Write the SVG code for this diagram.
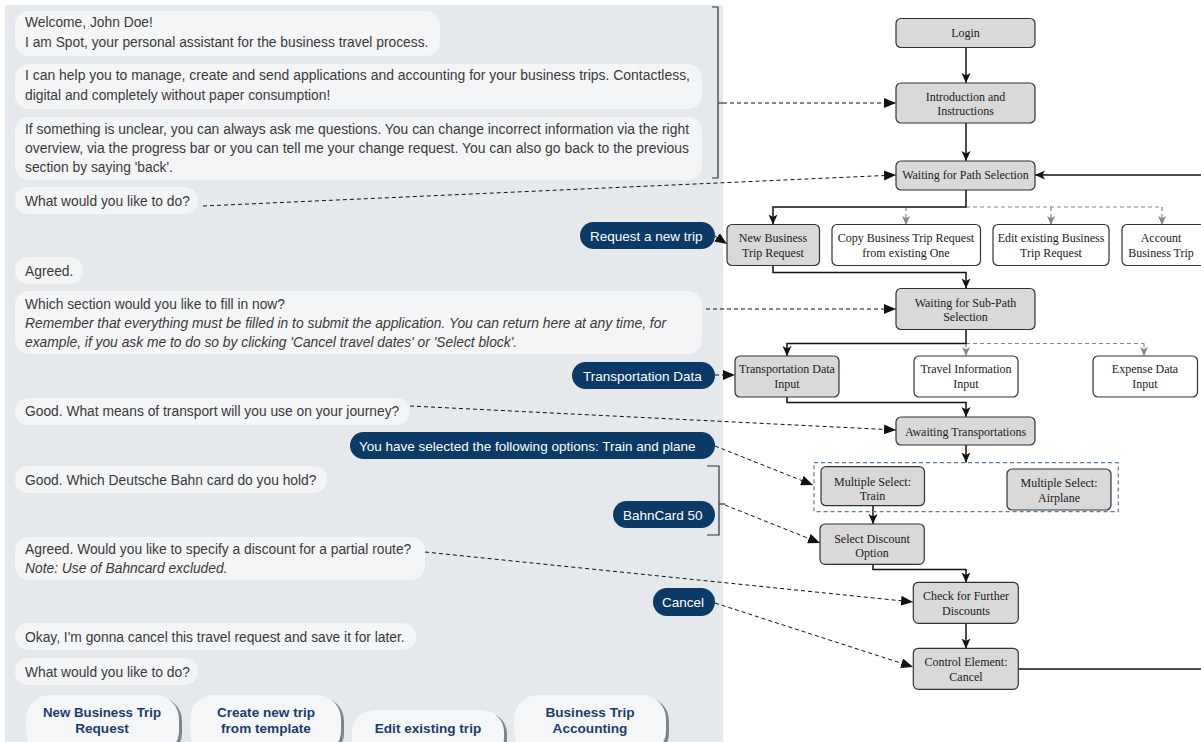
<svg xmlns="http://www.w3.org/2000/svg" width="1201" height="742" viewBox="0 0 1201 742">
<defs>
<style>
.panel{fill:#e5e9eb}
.bub{fill:#f4f5f6}
.ubub{fill:#0c3a66}
.t{font-family:"Liberation Sans",Arial,sans-serif;font-size:13.8px;fill:#3a3a3a}
.i{font-style:italic}
.ut{font-family:"Liberation Sans",Arial,sans-serif;font-size:13.5px;fill:#ffffff}
.btn{fill:#f5f6f7}
.bsh{fill:#7d848a}
.bt{font-family:"Liberation Sans",Arial,sans-serif;font-size:13.6px;font-weight:bold;fill:#1c3d6c;text-anchor:middle}
.n{fill:#d9d9d9;stroke:#333;stroke-width:1.2}
.nw{fill:#ffffff;stroke:#333;stroke-width:1.2}
.nt{font-family:"Liberation Serif","Times New Roman",serif;font-size:12px;fill:#1a1a1a;text-anchor:middle}
.c{fill:none;stroke:#111;stroke-width:1.5}
.cd{fill:none;stroke:#111;stroke-width:1;stroke-dasharray:4 3}
.cg{fill:none;stroke:#888;stroke-width:1.2;stroke-dasharray:4 3}
.br{fill:none;stroke:#333;stroke-width:1.2}
.box{fill:none;stroke:#5a7ca6;stroke-width:1.2;stroke-dasharray:4 3}
</style>
<marker id="as" viewBox="0 0 10 10" refX="10" refY="5" markerWidth="10" markerHeight="10" markerUnits="userSpaceOnUse" orient="auto"><path d="M0,0.5 L10,5 L0,9.5 L2.5,5 z" fill="#111"/></marker>
<marker id="ad" viewBox="0 0 12 10" refX="12" refY="5" markerWidth="12" markerHeight="10" markerUnits="userSpaceOnUse" orient="auto"><path d="M0,0 L12,5 L0,10 z" fill="#111"/></marker>
<marker id="ag" viewBox="0 0 10 10" refX="10" refY="5" markerWidth="9" markerHeight="9" markerUnits="userSpaceOnUse" orient="auto"><path d="M0,0.5 L10,5 L0,9.5 L2.5,5 z" fill="#888"/></marker>
</defs>
<rect width="1201" height="742" fill="#ffffff"/>
<rect class="panel" x="5" y="5" width="718" height="737"/>

<g id="chat">
<g id="m1"><rect class="bub" x="15" y="11" width="425" height="45" rx="14"/>
<text class="t" x="25" y="27">Welcome, John Doe!</text>
<text class="t" x="25" y="47">I am Spot, your personal assistant for the business travel process.</text></g>
<g id="m2"><rect class="bub" x="15" y="64" width="687" height="45" rx="14"/>
<text class="t" x="25" y="80" textLength="665" lengthAdjust="spacingAndGlyphs">I can help you to manage, create and send applications and accounting for your business trips. Contactless,</text>
<text class="t" x="25" y="100">digital and completely without paper consumption!</text></g>
<g id="m3"><rect class="bub" x="15" y="117" width="687" height="63" rx="14"/>
<text class="t" x="25" y="134" textLength="664" lengthAdjust="spacingAndGlyphs">If something is unclear, you can always ask me questions. You can change incorrect information via the right</text>
<text class="t" x="25" y="153" textLength="664" lengthAdjust="spacingAndGlyphs">overview, via the progress bar or you can tell me your change request. You can also go back to the previous</text>
<text class="t" x="25" y="172">section by saying 'back'.</text></g>
<g id="m4"><rect class="bub" x="15" y="187" width="183" height="27" rx="13"/>
<text class="t" x="25" y="206">What would you like to do?</text></g>
<g id="u1"><rect class="ubub" x="580" y="222" width="135" height="27" rx="13.5"/>
<text class="ut" x="590" y="241">Request a new trip</text></g>
<g id="m5"><rect class="bub" x="15" y="257" width="68" height="27" rx="13"/>
<text class="t" x="25" y="276">Agreed.</text></g>
<g id="m6"><rect class="bub" x="15" y="291" width="687" height="63" rx="14"/>
<text class="t" x="25" y="309">Which section would you like to fill in now?</text>
<text class="t i" x="25" y="328" textLength="641" lengthAdjust="spacingAndGlyphs">Remember that everything must be filled in to submit the application. You can return here at any time, for</text>
<text class="t i" x="25" y="347">example, if you ask me to do so by clicking 'Cancel travel dates' or 'Select block'.</text></g>
<g id="u2"><rect class="ubub" x="572" y="362" width="143" height="27" rx="13.5"/>
<text class="ut" x="583" y="381">Transportation Data</text></g>
<g id="m7"><rect class="bub" x="15" y="398" width="395" height="27" rx="13"/>
<text class="t" x="25" y="416">Good. What means of transport will you use on your journey?</text></g>
<g id="u3"><rect class="ubub" x="350" y="432" width="365" height="27" rx="13.5"/>
<text class="ut" x="359" y="451">You have selected the following options: Train and plane</text></g>
<g id="m8"><rect class="bub" x="15" y="466" width="312" height="27" rx="13"/>
<text class="t" x="25" y="485">Good. Which Deutsche Bahn card do you hold?</text></g>
<g id="u4"><rect class="ubub" x="613" y="501" width="102" height="27" rx="13.5"/>
<text class="ut" x="623" y="520">BahnCard 50</text></g>
<g id="m9"><rect class="bub" x="15" y="537" width="410" height="43" rx="14"/>
<text class="t" x="25" y="554">Agreed. Would you like to specify a discount for a partial route?</text>
<text class="t i" x="25" y="573">Note: Use of Bahncard excluded.</text></g>
<g id="u5"><rect class="ubub" x="653" y="588" width="62" height="28" rx="14"/>
<text class="ut" x="662" y="607">Cancel</text></g>
<g id="m10"><rect class="bub" x="15" y="623" width="401" height="27" rx="13"/>
<text class="t" x="25" y="642">Okay, I'm gonna cancel this travel request and save it for later.</text></g>
<g id="m11"><rect class="bub" x="15" y="658" width="183" height="27" rx="13"/>
<text class="t" x="25" y="677">What would you like to do?</text></g>
<g id="b1"><rect class="bsh" x="28" y="697" width="154" height="60" rx="24"/><rect class="btn" x="26" y="695" width="153" height="60" rx="24"/>
<text class="bt" x="102" y="717" textLength="118" lengthAdjust="spacingAndGlyphs">New Business Trip</text><text class="bt" x="102" y="733">Request</text></g>
<g id="b2"><rect class="bsh" x="192" y="697" width="152" height="60" rx="24"/><rect class="btn" x="190" y="695" width="151" height="60" rx="24"/>
<text class="bt" x="266" y="717">Create new trip</text><text class="bt" x="266" y="733">from template</text></g>
<g id="b3"><rect class="bsh" x="354" y="712" width="153" height="50" rx="22"/><rect class="btn" x="352" y="710" width="152" height="50" rx="22"/>
<text class="bt" x="428" y="733">Edit existing trip</text></g>
<g id="b4"><rect class="bsh" x="516" y="697" width="153" height="60" rx="24"/><rect class="btn" x="514" y="695" width="152" height="60" rx="24"/>
<text class="bt" x="590" y="717">Business Trip</text><text class="bt" x="590" y="733">Accounting</text></g>
</g>

<g id="connectors">
<path class="br" d="M712,7 H718 V178 H712"/>
<path class="br" d="M718,103 H723"/>
<path class="br" d="M707,466 H719 V535 H707"/>
<path class="br" stroke-width="2" d="M719,504 H725"/>
<path class="cd" d="M723,103 H896" marker-end="url(#ad)"/>
<path class="cd" d="M203,206 L896,175" marker-end="url(#ad)"/>
<path class="cd" d="M715,236 L727,244" marker-end="url(#ad)"/>
<path class="cd" d="M706,309 H896" marker-end="url(#ad)"/>
<path class="cd" d="M715,375 H735" marker-end="url(#ad)"/>
<path class="cd" d="M410,406 L896,430" marker-end="url(#ad)"/>
<path class="cd" d="M715,446 L813,485" marker-end="url(#ad)"/>
<path class="cd" d="M725,505 L820,543" marker-end="url(#ad)"/>
<path class="cd" d="M425,552 L913,602" marker-end="url(#ad)"/>
<path class="cd" d="M715,603 L913,667" marker-end="url(#ad)"/>

<path class="c" d="M966,47 V83" marker-end="url(#as)"/>
<path class="c" d="M966,123 V161" marker-end="url(#as)"/>
<path class="c" d="M1201,175 H1035" marker-end="url(#as)"/>
<path class="cg" d="M966,207 H1162"/>
<path class="cg" d="M906,207 V225" marker-end="url(#ag)"/>
<path class="cg" d="M1051,207 V225" marker-end="url(#ag)"/>
<path class="cg" d="M1162,207 V225" marker-end="url(#ag)"/>
<path class="c" d="M966,190 V207 H773 V224.5" marker-end="url(#as)"/>
<path class="c" d="M773,265.5 V272.5 H966 V288.5" marker-end="url(#as)"/>
<path class="cg" d="M966,343.5 H1144"/>
<path class="cg" d="M966,343.5 V356" marker-end="url(#ag)"/>
<path class="cg" d="M1144,343.5 V356" marker-end="url(#ag)"/>
<path class="c" d="M966,329.5 V343.5 H787 V356" marker-end="url(#as)"/>
<path class="c" d="M787,397 V402.5 H966 V417" marker-end="url(#as)"/>
<path class="c" d="M966,445 V462.5" marker-end="url(#as)"/>
<path class="c" d="M873,506 V524" marker-end="url(#as)"/>
<path class="c" d="M873,564.5 V569.5 H966 V582.5" marker-end="url(#as)"/>
<path class="c" d="M966,623.5 V648.5" marker-end="url(#as)"/>
<path class="c" d="M1018.5,669 H1201"/>
</g>

<rect class="box" x="814" y="462.7" width="304.3" height="49"/>

<g id="login"><rect class="n" x="896" y="18.5" width="139" height="29" rx="5"/><text class="nt" x="965.5" y="37">Login</text></g>
<g id="intro"><rect class="n" x="896" y="83" width="139" height="40" rx="5"/><text class="nt" x="965.5" y="100.5">Introduction and</text><text class="nt" x="965.5" y="115">Instructions</text></g>
<g id="path-sel"><rect class="n" x="896" y="161" width="139" height="29" rx="5"/><text class="nt" x="965.5" y="179">Waiting for Path Selection</text></g>
<g id="new-trip"><rect class="n" x="727" y="224.5" width="92.5" height="41" rx="5"/><text class="nt" x="773" y="242">New Business</text><text class="nt" x="773" y="257">Trip Request</text></g>
<g id="copy-trip"><rect class="nw" x="832" y="224.5" width="148.5" height="41" rx="5"/><text class="nt" x="906" y="242">Copy Business Trip Request</text><text class="nt" x="906" y="257">from existing One</text></g>
<g id="edit-trip"><rect class="nw" x="993" y="224.5" width="116" height="41" rx="5"/><text class="nt" x="1051" y="242">Edit existing Business</text><text class="nt" x="1051" y="257">Trip Request</text></g>
<g id="account-trip"><rect class="nw" x="1122" y="224.5" width="84" height="41" rx="5"/><text class="nt" x="1161" y="242">Account</text><text class="nt" x="1161" y="257">Business Trip</text></g>
<g id="subpath"><rect class="n" x="896" y="288.5" width="139" height="41" rx="5"/><text class="nt" x="965.5" y="306.5">Waiting for Sub-Path</text><text class="nt" x="965.5" y="321">Selection</text></g>
<g id="transport"><rect class="n" x="735" y="356" width="104" height="41" rx="5"/><text class="nt" x="787" y="373">Transportation Data</text><text class="nt" x="787" y="388">Input</text></g>
<g id="travel-info"><rect class="nw" x="914" y="356" width="104" height="41" rx="5"/><text class="nt" x="966" y="373">Travel Information</text><text class="nt" x="966" y="388">Input</text></g>
<g id="expense"><rect class="nw" x="1093" y="356" width="104.5" height="41" rx="5"/><text class="nt" x="1145" y="373">Expense Data</text><text class="nt" x="1145" y="388">Input</text></g>
<g id="awaiting"><rect class="n" x="896" y="417" width="139" height="28" rx="5"/><text class="nt" x="965.5" y="435.5">Awaiting Transportations</text></g>
<g id="train"><rect class="n" x="821" y="466.7" width="103.5" height="39" rx="5"/><text class="nt" x="872.5" y="485.5">Multiple Select:</text><text class="nt" x="872.5" y="499.5">Train</text></g>
<g id="airplane"><rect class="n" x="1007" y="469" width="104" height="41" rx="5"/><text class="nt" x="1059" y="486.5">Multiple Select:</text><text class="nt" x="1059" y="501.5">Airplane</text></g>
<g id="discount"><rect class="n" x="820" y="524" width="104.3" height="40.3" rx="5"/><text class="nt" x="872" y="542.5">Select Discount</text><text class="nt" x="872" y="556.5">Option</text></g>
<g id="check"><rect class="n" x="913.3" y="582.3" width="105" height="41" rx="5"/><text class="nt" x="966" y="600">Check for Further</text><text class="nt" x="966" y="614.7">Discounts</text></g>
<g id="cancel"><rect class="n" x="913.3" y="648.3" width="105" height="41" rx="5"/><text class="nt" x="966" y="666">Control Element:</text><text class="nt" x="966" y="680.7">Cancel</text></g>
</svg>
